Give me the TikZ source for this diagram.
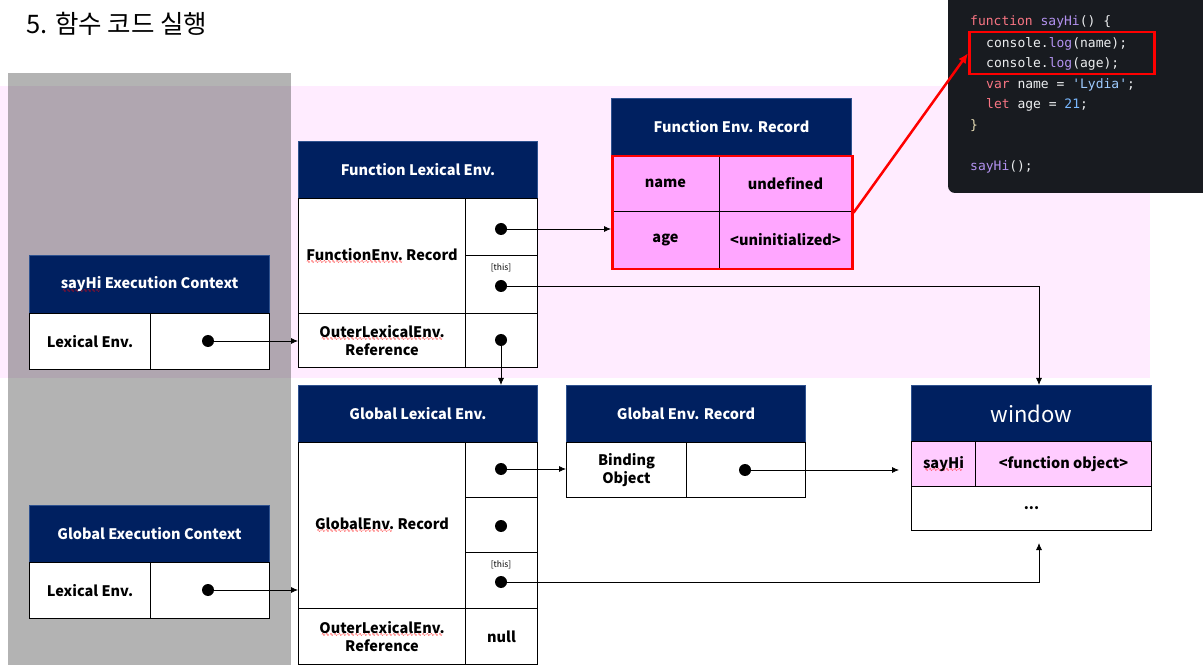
\documentclass[tikz,border=0pt]{standalone}
\usepackage{fontspec}
\setmainfont{Noto Sans CJK KR}
\newfontfamily\codefont{DejaVu Sans Mono}
\newfontfamily\wavefont{DejaVu Sans}
\usetikzlibrary{arrows.meta}
\definecolor{navy}{RGB}{0,32,96}
\definecolor{hdrline}{RGB}{47,82,143}
\definecolor{pinkbg}{RGB}{255,236,255}
\definecolor{grayband}{RGB}{179,179,179}
\definecolor{mauve}{RGB}{176,166,176}
\definecolor{recpink}{RGB}{255,166,255}
\definecolor{winpink}{RGB}{255,204,255}
\definecolor{codebg}{RGB}{24,27,32}
\definecolor{ckw}{RGB}{249,117,131}
\definecolor{cfn}{RGB}{179,146,240}
\definecolor{ctx}{RGB}{236,238,240}
\definecolor{cstr}{RGB}{158,203,255}
\definecolor{cnum}{RGB}{121,184,255}
\definecolor{cbrace}{RGB}{230,220,180}
\newsavebox\wavebox
\newcommand\redwave[1]{\sbox\wavebox{#1}%
  \rlap{\raisebox{-3.4pt}{\hbox to \wd\wavebox{\color{red}\mdseries\wavefont\fontsize{5}{5}\selectfont\cleaders\hbox{∿}\hfill}}}\usebox\wavebox}
\newcommand\mkcell[7][box]{%
  \pgfmathsetmacro\cw{#5-#3}\pgfmathsetmacro\ch{#6-#4}%
  \node[#1, minimum width=\cw pt, minimum height=\ch pt] (#2) at (#3,#4) {#7};%
}
\tikzset{
  box/.style={draw=black, line width=1pt, fill=white, anchor=north west, inner sep=0pt,
    align=center, text=black, font=\bfseries\fontsize{14.5}{18}\selectfont},
  hdr/.style={box, fill=navy, draw=hdrline, text=white},
  recbox/.style={box, fill=recpink},
  winbox/.style={box, fill=winpink},
  dot/.style={circle, fill=black, inner sep=0pt, minimum size=12pt},
  arr/.style={-{Latex[length=7pt,width=6pt]}, line width=0.8pt},
  code/.style={anchor=mid west, inner sep=0pt, text=ctx, font=\codefont\fontsize{13}{15}\selectfont},
  small/.style={inner sep=0pt, font=\fontsize{8.5}{10}\selectfont},
}
\begin{document}
\begin{tikzpicture}[x=1pt,y=-1pt]
\useasboundingbox (0,0) rectangle (1203,668);
% backgrounds
\fill[pinkbg] (0,86) rectangle (1150,378);
\fill[grayband] (8,73) rectangle (291,665);
\fill[mauve] (8,86) rectangle (291,378);
% title
\node[anchor=mid west, inner sep=0pt, font=\fontsize{25.5}{27}\selectfont] (title) at (26,31) {5. 함수 코드 실행};
% code panel
\fill[codebg, rounded corners=7pt] (948,-20) rectangle (1230,193);
\node[code] (c1) at (970,23) {\textcolor{ckw}{function} \textcolor{cfn}{sayHi}() \{};
\node[code] (c2) at (986,45) {console.\textcolor{cfn}{log}(name);};
\node[code] (c3) at (986,65) {console.\textcolor{cfn}{log}(age);};
\node[code] (c4) at (986,86) {\textcolor{ckw}{var} name = \textcolor{cstr}{'Lydia'};};
\node[code] (c5) at (986,106) {\textcolor{ckw}{let} age = \textcolor{cnum}{21};};
\node[code] (c6) at (970,127) {\textcolor{cbrace}{\}}};
\node[code] (c7) at (970,168) {\textcolor{cfn}{sayHi}();};
\node[draw=red, line width=2.5pt, anchor=north west, minimum width=185pt, minimum height=42pt, inner sep=0pt] (redbox) at (968,31) {};
% Function Env. Record
\mkcell[hdr]{ferh}{611}{98}{851}{155}{Function Env. Record}
\mkcell[recbox]{fname}{611}{155}{719}{211}{name}
\mkcell[recbox]{fundef}{719}{155}{851}{211}{undefined}
\mkcell[recbox]{fage}{611}{211}{719}{268}{age}
\mkcell[recbox]{funinit}{719}{211}{851}{268}{<uninitialized>}
\node[draw=red, line width=2.5pt, anchor=north west, minimum width=240pt, minimum height=113pt, inner sep=0pt] (ferred) at (611,155) {};
\draw[red, line width=2.5pt, -{Latex[length=10pt,width=9pt]}] (ferred.east) -- (redbox.west);
% Function Lexical Env.
\mkcell[hdr]{flh}{298}{141}{537}{198}{Function Lexical Env.}
\mkcell{frec}{298}{198}{465}{313}{\redwave{FunctionEnv.} Record}
\mkcell{fc1}{465}{198}{537}{255}{}
\mkcell{fc2}{465}{255}{537}{313}{}
\mkcell{fouter}{298}{313}{465}{367}{\redwave{OuterLexicalEnv.}\\Reference}
\mkcell{fc3}{465}{313}{537}{367}{}
\node[small] (fthis) at (501,268) {[this]};
% sayHi Execution Context
\mkcell[hdr]{seh}{29}{255}{269}{313}{\redwave{sayHi} Execution Context}
\mkcell{sel}{29}{313}{150}{369}{Lexical Env.}
\mkcell{sev}{150}{313}{269}{369}{}
% Global Lexical Env.
\mkcell[hdr]{glh}{298}{385}{537}{442}{Global Lexical Env.}
\mkcell{grec}{298}{442}{465}{608}{\redwave{GlobalEnv.} Record}
\mkcell{gc1}{465}{442}{537}{497}{}
\mkcell{gc2}{465}{497}{537}{552}{}
\mkcell{gc3}{465}{552}{537}{608}{}
\mkcell{gouter}{298}{608}{465}{664}{\redwave{OuterLexicalEnv.}\\Reference}
\mkcell{gnull}{465}{608}{537}{664}{null}
\node[small] (gthis) at (501,565) {[this]};
% Global Env. Record
\mkcell[hdr]{gerh}{566}{385}{805}{442}{Global Env. Record}
\mkcell{gbind}{566}{442}{686}{497}{Binding\\Object}
\mkcell{gerv}{686}{442}{805}{497}{}
% window
\mkcell[hdr]{winh}{911}{385}{1151}{441}{\mdseries\fontsize{22}{24}\selectfont window}
\mkcell[winbox]{wsay}{911}{441}{975}{486}{\redwave{sayHi}}
\mkcell[winbox]{wfobj}{975}{441}{1151}{486}{<function object>}
\mkcell{wdots}{911}{486}{1151}{530}{...}
% Global Execution Context
\mkcell[hdr]{geh}{29}{505}{269}{562}{Global Execution Context}
\mkcell{gel}{29}{562}{150}{618}{Lexical Env.}
\mkcell{gev}{150}{562}{269}{618}{}
% dots
\node[dot] (dse) at (208,341) {};
\node[dot] (dge) at (208,590) {};
\node[dot] (df1) at (501,229) {};
\node[dot] (df2) at (501,286) {};
\node[dot] (df3) at (501,340) {};
\node[dot] (dg1) at (501,469) {};
\node[dot] (dg2) at (501,526) {};
\node[dot] (dg3) at (501,582) {};
\node[dot] (dger) at (745,470) {};
% free ends
\coordinate (wtop) at (1039,385);
\coordinate (wbot) at (1039,543);
\coordinate (win) at (899,470);
% connectors
\draw[arr] (dse.center) -- (dse -| fouter.west);
\draw[arr] (dge.center) -- (dge -| grec.west);
\draw[arr] (df1.center) -- (df1 -| fage.west);
\draw[arr] (df2.center) -| (wtop);
\draw[arr] (df3.center) -- (df3 |- glh.north);
\draw[arr] (dg1.center) -- (dg1 -| gbind.west);
\draw[arr] (dger.center) -- (win);
\draw[arr] (dg3.center) -| (wbot);
\end{tikzpicture}
\end{document}
